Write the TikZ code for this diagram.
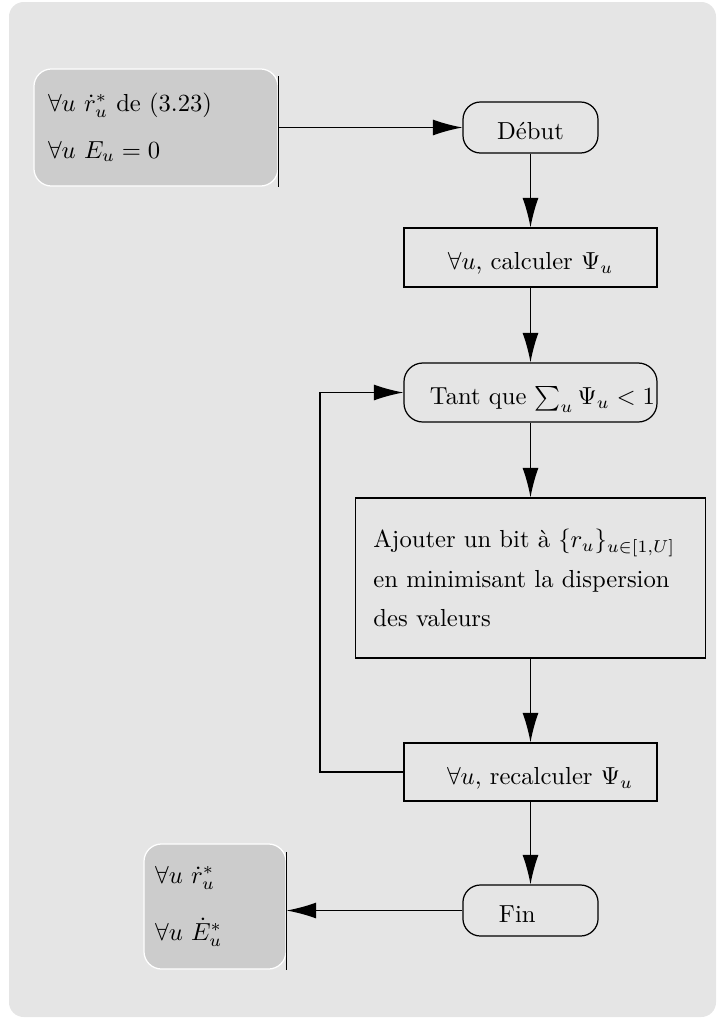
\documentclass[tikz,border=0pt]{standalone}
\usepackage{amsmath}
\usepackage{amssymb}
\usetikzlibrary{arrows.meta}

\definecolor{fondgris}{gray}{0.90}
\definecolor{boitegris}{gray}{0.80}

\tikzset{
  donnee/.style={fill=boitegris, draw=white, rounded corners=0.25cm, align=left},
  borne/.style={draw, rounded corners=0.25cm, minimum width=1.926cm, minimum height=0.728cm,
    text height=11pt, text depth=1pt},
  etape/.style={draw, minimum width=3.61cm, minimum height=0.842cm, text height=11pt, text depth=1pt},
  fleche/.style={-{Latex[length=12pt,width=6.5pt]}}
}

\begin{document}
\begin{tikzpicture}[x=0.01427cm, y=-0.01427cm, line width=0.5pt]
\useasboundingbox (0,0) rectangle (717,1019);
\fill[fondgris, rounded corners=0.21cm] (9,2) rectangle (716,1017);

% entrees et sorties
\node[donnee, minimum width=3.482cm, minimum height=1.67cm, inner xsep=0.2cm, text width=3.08cm]
  (entree) at (156,127.5) {$\forall u\ \dot r_u^*$ de (3.23)\\[7pt] $\forall u\ E_u=0$};
\node[donnee, minimum width=2.026cm, minimum height=1.784cm, inner xsep=0.157cm, text width=1.71cm]
  (sortie) at (215,906.5) {$\forall u\ \dot r_u^*$\\[11pt] $\forall u\ \dot E_u^*$\\[3pt]};
\draw (entree.north east) ++(0,8) -- (entree.south east);
\draw (sortie.north east) ++(0,9) -- (sortie.south east);

% organigramme
\node[borne] (debut) at (530.5,127.5) {Début};
\node[etape] (calcul) at (530.5,257.5) {$\forall u$, calculer $\Psi_u$};
\node[etape, rounded corners=0.27cm, align=left, inner xsep=0.371cm, text width=2.868cm]
  (tantque) at (530.5,392.5) {\mbox{Tant que $\sum_u \Psi_u<1$}};
\node[draw, minimum width=4.995cm, minimum height=2.283cm, align=left, inner xsep=0.257cm, text width=4.48cm]
  (ajout) at (530.5,578) {Ajouter un bit à $\{r_u\}_{u\in[1,U]}$\\[4pt] en minimisant la dispersion\\[4pt] des valeurs};
\node[etape, minimum height=0.828cm, align=left, inner xsep=0.614cm, text width=2.382cm]
  (recalcul) at (530.5,772) {\mbox{$\forall u$, recalculer $\Psi_u$}};
\node[borne, align=left, inner xsep=0.514cm, text width=0.9cm] (fin) at (530.5,910.5) {Fin};
\coordinate (boucle) at (320,600);

\draw[fleche] (entree.east) -- (debut.west);
\draw[fleche] (debut) -- (calcul);
\draw[fleche] (calcul) -- (tantque);
\draw[fleche] (tantque) -- (ajout);
\draw[fleche] (ajout) -- (recalcul);
\draw[fleche] (recalcul) -- (fin);
\draw[fleche] (recalcul.west) -| (boucle) |- (tantque.west);
\draw[fleche] (fin.west) -- (fin.west -| sortie.east);
\end{tikzpicture}
\end{document}
